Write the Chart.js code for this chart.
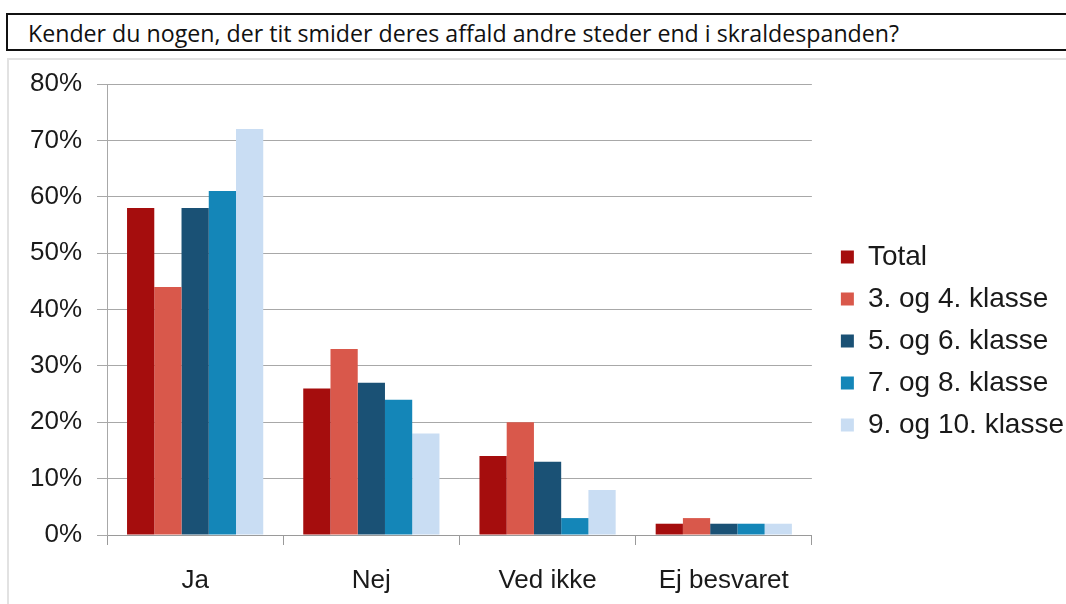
<!DOCTYPE html>
<html>
<head>
<meta charset="utf-8">
<script src="https://cdn.jsdelivr.net/npm/chart.js@4.4.1/dist/chart.umd.min.js"></script>
<style>
    html, body { margin: 0; padding: 0; background: #fff; }
    body { width: 1066px; height: 604px; position: relative; overflow: hidden; font-family: "Liberation Sans", Arial, sans-serif; }
    #titleBox {
        position: absolute; left: 6px; top: 13px; width: 1080px; height: 38px;
        border: 2px solid #111; box-sizing: border-box;
    }
    #title {
        position: absolute; left: 20px; top: 2px; font-family: "Open Sans", sans-serif;
        font-size: 23px; color: #111; white-space: nowrap; transform-origin: left center;
    }
    #frame {
        position: absolute; left: 7px; top: 58px; width: 1059px; height: 546px;
        border-top: 2px solid #e2e2e2; border-left: 2px solid #e2e2e2; box-sizing: border-box;
    }
    #chartWrap { position: absolute; left: 8px; top: 60px; width: 1066px; height: 562px; }
</style>
</head>
<body>
<div id="titleBox"><span id="title">Kender du nogen, der tit smider deres affald andre steder end i skraldespanden?</span></div>
<div id="frame"></div>
<div id="chartWrap"><canvas id="myChart"></canvas></div>
<script>
const categories = ['Ja', 'Nej', 'Ved ikke', 'Ej besvaret'];
const seriesNames = ['Total', '3. og 4. klasse', '5. og 6. klasse', '7. og 8. klasse', '9. og 10. klasse'];
const seriesColors = ['#a50d0d', '#d9584b', '#1a5175', '#1486b8', '#c9ddf3'];
const totalValues = [58, 26, 14, 2];
const klasse34Values = [44, 33, 20, 3];
const klasse56Values = [58, 27, 13, 2];
const klasse78Values = [61, 24, 3, 2];
const klasse910Values = [72, 18, 8, 2];
const yTicks = [0, 10, 20, 30, 40, 50, 60, 70, 80];

const legendGap = 15;

document.addEventListener('DOMContentLoaded', () => {
    fitTitle();
    initializeChart();
});

function fitTitle() {
    const title = document.getElementById('title');
    const targetWidth = 871;
    const w = title.getBoundingClientRect().width;
    title.style.transform = `scaleX(${targetWidth / w})`;
}

// giver luft mellem plotområdet og forklaringen
const legendGapPlugin = {
    id: 'legendGap',
    beforeLayout(chart) {
        const legend = chart.legend;
        if (legend && !legend._gapPatched) {
            const fit = legend.fit.bind(legend);
            legend.fit = function () {
                fit();
                this.width += legendGap;
            };
            legend._gapPatched = true;
        }
    },
    afterLayout(chart) {
        if (chart.legend) {
            chart.legend.left += legendGap;
        }
    }
};

function initializeChart() {
    const allValues = [totalValues, klasse34Values, klasse56Values, klasse78Values, klasse910Values];
    const datasets = seriesNames.map((name, i) => ({
        label: name,
        data: allValues[i],
        backgroundColor: seriesColors[i],
        borderWidth: 0,
        barPercentage: 1.0,
        categoryPercentage: 0.773
    }));

    const ctx = document.getElementById('myChart').getContext('2d');
    new Chart(ctx, {
        type: 'bar',
        data: { labels: categories, datasets: datasets },
        plugins: [legendGapPlugin],
        options: {
            responsive: true,
            maintainAspectRatio: false,
            animation: false,
            layout: { padding: { left: 7, top: 0, right: 0, bottom: 0 } },
            plugins: {
                tooltip: { enabled: false },
                legend: {
                    position: 'right',
                    align: 'center',
                    labels: {
                        boxWidth: 13,
                        boxHeight: 13,
                        padding: 14,
                        color: '#1a1a1a',
                        font: { family: '"Liberation Sans", Arial, sans-serif', size: 28 }
                    }
                }
            },
            scales: {
                x: {
                    afterFit: axis => { axis.height = 87; },
                    grid: {
                        offset: true,
                        drawOnChartArea: false,
                        drawTicks: true,
                        tickLength: 10,
                        color: '#9a9a9a'
                    },
                    border: { color: '#9a9a9a', width: 1 },
                    ticks: {
                        color: '#1a1a1a',
                        padding: 20,
                        font: { family: '"Liberation Sans", Arial, sans-serif', size: 26 }
                    }
                },
                y: {
                    min: 0,
                    max: 80,
                    afterBuildTicks: axis => {
                        axis.ticks = yTicks.map(v => ({ value: v }));
                    },
                    afterFit: axis => { axis.paddingTop = 24; },
                    grid: {
                        color: '#a8a8a8',
                        tickLength: 10
                    },
                    border: { color: '#a8a8a8', width: 1 },
                    ticks: {
                        color: '#1a1a1a',
                        padding: 15,
                        callback: v => v + '%',
                        font: { family: '"Liberation Sans", Arial, sans-serif', size: 26 }
                    }
                }
            }
        }
    });
}
</script>
</body>
</html>
